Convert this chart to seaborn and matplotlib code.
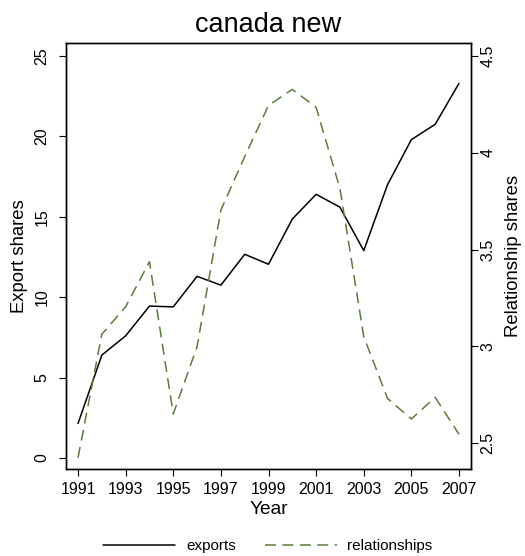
import matplotlib
matplotlib.use("Agg")
import matplotlib.pyplot as plt
import seaborn as sns
import pandas as pd
from matplotlib.lines import Line2D

years = list(range(1991, 2008))
exports = [2.15, 6.4, 7.6, 9.45, 9.4, 11.3, 10.75, 12.67, 12.05, 14.86, 16.4,
           15.6, 12.9, 17.0, 19.8, 20.75, 23.3]
relationships = [2.424, 3.062, 3.204, 3.437, 2.65, 2.998, 3.704, 3.98, 4.245,
                 4.328, 4.235, 3.816, 3.05, 2.73, 2.624, 2.736, 2.545]
left_ticks = [0, 5, 10, 15, 20, 25]
right_ticks = [2.5, 3, 3.5, 4, 4.5]
right_tick_labels = ["2.5", "3", "3.5", "4", "4.5"]
x_ticks = list(range(1991, 2008, 2))

df = pd.DataFrame({"Year": years, "exports": exports, "relationships": relationships})

sns.set_style("ticks")
plt.rcParams['font.family'] = ['Liberation Sans', 'DejaVu Sans']
plt.rcParams.update({"text.color": "black", "axes.labelcolor": "black",
                     "xtick.color": "black", "ytick.color": "black",
                     "axes.edgecolor": "black"})

GREEN = "#5b7d3b"
DASH = (0, (7.2, 4.2))
fig = plt.figure(figsize=(5.25, 5.56), dpi=100)
ax = fig.add_axes([66/525, 1-469.3/556, (471-66)/525, (469.3-43.3)/556])
ax2 = ax.twinx()

sns.lineplot(data=df, x="Year", y="exports", ax=ax, color="black", linewidth=1.1)
sns.lineplot(data=df, x="Year", y="relationships", ax=ax2, color=GREEN,
             linewidth=1.1, linestyle=DASH)

ax.set_xlim(1990.495, 2007.505)
ax.set_ylim(-0.70, 25.79)
ax2.set_ylim(2.364, 4.566)

ax.set_xticks(x_ticks)
ax.set_xticklabels([str(t) for t in x_ticks])
ax.set_yticks(left_ticks)
ax.set_yticklabels([str(t) for t in left_ticks], rotation=90, va="center")
ax2.set_yticks(right_ticks)
ax2.set_yticklabels(right_tick_labels, rotation=90, va="center")

for a in (ax, ax2):
    a.tick_params(axis="both", length=5, width=0.8, labelsize=11.5, colors="black")
    for s in a.spines.values():
        s.set_visible(True)
        s.set_linewidth(1.0)
        s.set_color("black")
ax.tick_params(axis="x", pad=4.5)
ax.tick_params(axis="y", pad=7)
ax2.tick_params(axis="y", pad=2)

ax.set_xlabel("Year", fontsize=13.8, labelpad=2.5, color="black")
ax.set_ylabel("Export shares", fontsize=13.3, labelpad=4.5, color="black")
ax2.set_ylabel("Relationship shares", fontsize=13.3, rotation=90, labelpad=7,
               color="black")
ax.set_title("canada new", fontsize=19.5, pad=8, color="black")

handles = [Line2D([], [], color="black", linewidth=1.1),
           Line2D([], [], color=GREEN, linewidth=1.1, linestyle=DASH)]
leg = fig.legend(handles, ["exports", "relationships"], loc="center",
                 bbox_to_anchor=(268/525, 1-546/556), ncol=2, frameon=False,
                 fontsize=11, handlelength=4.7, handletextpad=0.7, columnspacing=1.9)
for t in leg.get_texts():
    t.set_color("black")

fig.savefig("out.png", dpi=100)
